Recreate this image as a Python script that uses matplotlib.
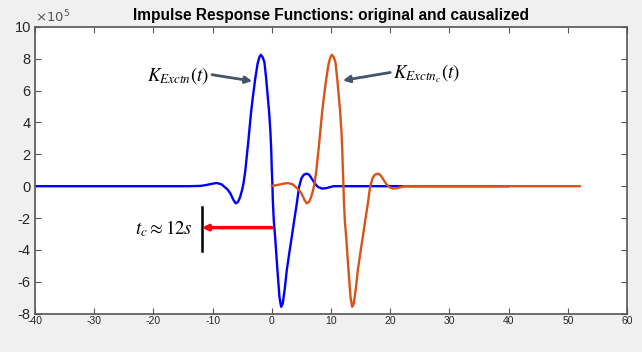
import matplotlib.pyplot as plt

plt.rcParams['font.family'] = ['Liberation Sans', 'DejaVu Sans']
plt.rcParams['axes.unicode_minus'] = False

# original impulse response K_Exctn(t) (units of 1e5)
t_orig = [-40, -20, -14, -12, -11, -10, -9.3, -8.5, -7.5, -7.0, -6.5, -6.1, -5.7, -5.35,
          -5.0, -4.8, -4.5, -4.0, -3.5, -3.2, -2.8, -2.4, -2.1, -1.85, -1.55, -1.25, -0.95,
          -0.7, -0.45, -0.25, -0.1, 0.0, 0.08, 0.17, 0.33, 0.56, 0.95, 1.29, 1.57, 1.85, 2.2,
          2.53, 2.95, 3.37, 3.8, 4.22, 4.6, 5.0, 5.4, 5.9, 6.3, 6.7, 7.3, 7.8, 8.5, 9.2, 10.4,
          12, 20, 40]
k_orig = [0, 0, 0, 0.02, 0.08, 0.16, 0.2, 0.12, -0.2, -0.45, -0.85, -1.08, -0.98, -0.68,
          -0.2, 0.15, 0.9, 2.7, 4.65, 5.6, 6.75, 7.7, 8.1, 8.25, 8.1, 7.79, 6.75,
          5.7, 4.65, 3.5, 2.3, 1.0, 0.3, -0.88, -2.14, -3.18, -5.27, -6.95, -7.57, -7.36, -6.4,
          -5.27, -4.2, -3.18, -2.1, -1.09, -0.05, 0.5, 0.72, 0.79, 0.72, 0.5, 0.16, -0.05, -0.15,
          -0.12, 0, 0, 0, 0]
t_c = 12  # causalization shift (s)

# causalized response: original shifted by t_c, kept for t >= 0
t_caus = [t + t_c for t in t_orig if t >= -t_c]
k_caus = [k for t, k in zip(t_orig, k_orig) if t >= -t_c]

fig = plt.figure(figsize=(6.42, 3.52), dpi=100, facecolor='#f0f0f0')
ax = fig.add_axes([0.0545, 0.109, 0.9222, 0.8145])

ax.plot(t_orig, k_orig, color='#0000ff', lw=1.7)
ax.plot(t_caus, k_caus, color='#d95319', lw=1.7)

ax.set_xlim(-40, 60)
ax.set_ylim(-8, 10)
ax.set_xticks(range(-40, 61, 10))
ax.set_yticks(range(-8, 11, 2))
ax.tick_params(direction='in', length=4, width=0.8, colors='#555555',
               top=True, right=True, labelcolor='#262626')
ax.tick_params(axis='y', labelsize=10.5, pad=3)
ax.tick_params(axis='x', labelsize=7.5, pad=2)
for s in ax.spines.values():
    s.set_color('#555555')
    s.set_linewidth(1.2)

ax.set_title('Impulse Response Functions: original and causalized',
             fontsize=11.2, fontweight='bold', pad=5)
ax.text(0.0, 1.005, r'$\times10^{5}$', transform=ax.transAxes, fontsize=9.5,
        color='#555555', va='bottom', ha='left', math_fontfamily='dejavusans')

# annotations
arrow_col = '#44546a'
ax.text(-10.6, 6.95, r'$K_{Exctn}\left(t\right)$', ha='right', va='center',
        fontsize=13.5, math_fontfamily='stix')
ax.annotate('', xy=(-3.3, 6.6), xytext=(-10.1, 7.0),
            arrowprops=dict(arrowstyle='-|>', color=arrow_col, lw=2,
                            shrinkA=0, shrinkB=0, mutation_scale=10))
ax.text(20.4, 7.08, r'$K_{Exctn_c}\left(t\right)$', ha='left', va='center',
        fontsize=13.5, math_fontfamily='stix')
ax.annotate('', xy=(12.0, 6.64), xytext=(20.0, 7.14),
            arrowprops=dict(arrowstyle='-|>', color=arrow_col, lw=2,
                            shrinkA=0, shrinkB=0, mutation_scale=10))

ax.plot([-11.8, -11.8], [-1.3, -4.05], color='black', lw=1.8)
ax.annotate('', xy=(-11.8, -2.6), xytext=(0, -2.6),
            arrowprops=dict(arrowstyle='-|>', color='red', lw=2.5,
                            shrinkA=0, shrinkB=0, mutation_scale=8))
ax.text(-13.3, -2.64, r'$t_c \approx 12s$', ha='right', va='center',
        fontsize=13.5, math_fontfamily='stix')

plt.savefig('out.png', dpi=100, facecolor=fig.get_facecolor())
